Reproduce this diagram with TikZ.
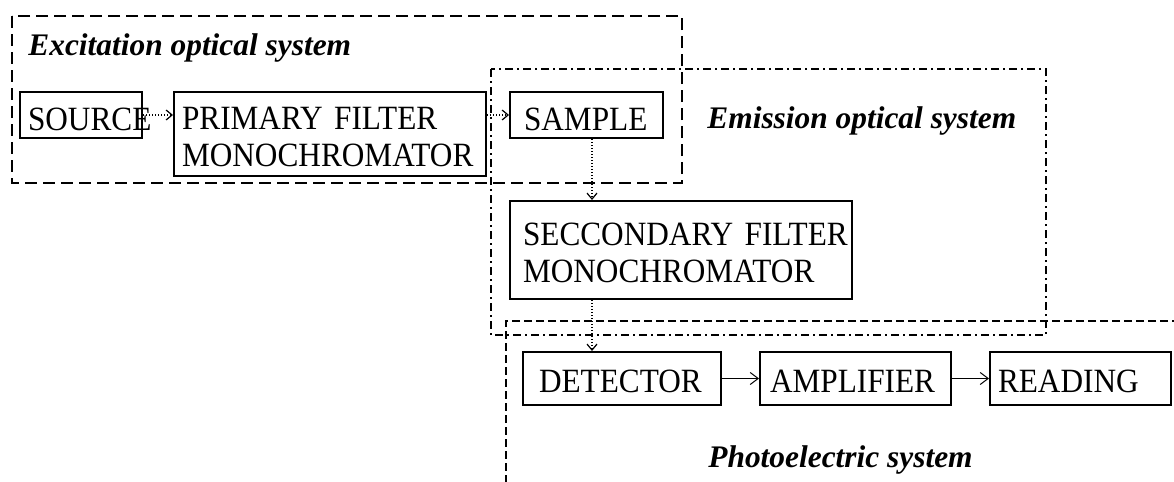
\documentclass[tikz,border=0pt]{standalone}
\usepackage{fontspec}
\setmainfont{Liberation Serif}[FakeStretch=0.92]
\newfontfamily\titlefont{Liberation Serif}
\usetikzlibrary{arrows.meta,positioning}
\hyphenpenalty=10000
\exhyphenpenalty=10000

\begin{document}
\begin{tikzpicture}[
    x=0.5pt, y=-0.5pt,
    stage/.style={draw,line width=1pt,align=left,inner ysep=0pt,text height=15pt,text depth=0pt,font=\fontsize{17}{18.2}\selectfont},
    twoline/.style={text height=14pt,text depth=18.2pt},
    title/.style={inner sep=0pt,anchor=base west,font=\titlefont\fontsize{15.7}{18.2}\selectfont\bfseries\itshape},
    beam/.style={line width=0.6pt,dash pattern=on 0.6pt off 0.9pt,-{Straight Barb[length=3pt,width=5pt]}},
    wire/.style={line width=0.5pt,-{Straight Barb[length=4pt,width=6pt]}},
    exframe/.style={line width=1pt,dash pattern=on 6pt off 3pt},
    emframe/.style={line width=0.8pt,dash pattern=on 4pt off 2pt on 1pt off 2pt},
    phframe/.style={line width=0.8pt,dash pattern=on 4pt off 2pt}
  ]
  \useasboundingbox (0,0) rectangle (1174,482);

  % group frames
  \draw[exframe] (12,16) rectangle (682,183);
  \draw[emframe] (491,69) rectangle (1046,335);
  \draw[phframe] (1180,321) -| (506,490);
  \node[title] (exlabel) at (28,55) {Excitation optical system};
  \node[title] (emlabel) at (707,128) {Emission optical system};
  \node[title] (phlabel) at (708,467) {Photoelectric system};

  % optical path
  \node[stage,text width=53pt,inner xsep=4pt,minimum height=23pt] (source) at (81,115) {SOURCE};
  \node[stage,twoline,text width=148pt,inner xsep=4pt,minimum height=42pt,right=15pt of source.north east,anchor=north west] (primary) {PRIMARY~FILTER\\MONOCHROMATOR};
  \node[stage,text width=62.5pt,inner xsep=7pt,minimum height=23pt,right=11pt of primary.north east,anchor=north west] (sample) {SAMPLE};
  \node[stage,twoline,text width=158pt,inner xsep=6.5pt,minimum height=49pt,below=30.5pt of sample.south west,anchor=north west] (secondary) {SECCONDARY~FILTER\\MONOCHROMATOR};

  % electronics
  \node[stage,text width=83pt,inner xsep=8pt,minimum height=26.5pt,text height=14pt,anchor=north west] (detector) at (522,351) {DETECTOR};
  \node[stage,text width=85.5pt,inner xsep=5pt,minimum height=26.5pt,text height=14pt,right=18.5pt of detector] (amplifier) {AMPLIFIER};
  \node[stage,text width=82.5pt,inner xsep=4pt,minimum height=26.5pt,text height=14pt,right=18.5pt of amplifier] (reading) {READING};

  \coordinate (drop) at ([xshift=2.75pt]sample.south);
  \draw[beam] (source.east) -- (source.east -| primary.west);
  \draw[beam] (sample.west -| primary.east) -- (sample.west);
  \draw[beam] (drop) -- (drop |- secondary.north);
  \draw[beam] (secondary.south -| drop) -- (detector.north -| drop);
  \draw[wire] (detector) -- (amplifier);
  \draw[wire] (amplifier) -- (reading);
\end{tikzpicture}
\end{document}
